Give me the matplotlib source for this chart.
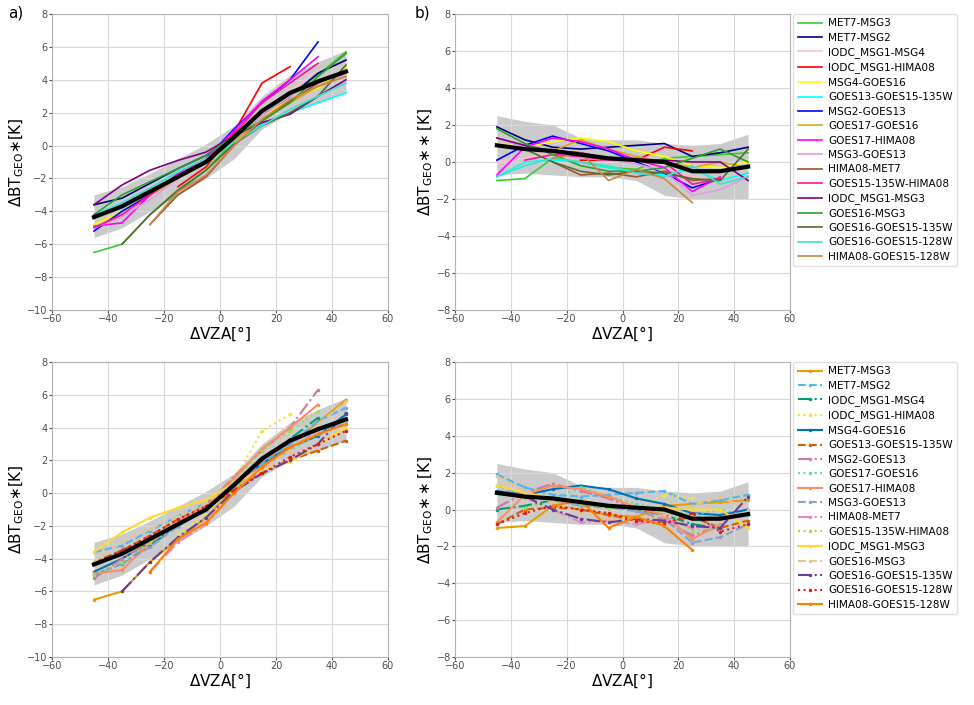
import numpy as np
import matplotlib.pyplot as plt

nan = np.nan
vza = [-45, -35, -25, -15, -5, 5, 15, 25, 35, 45]

names = ['MET7-MSG3', 'MET7-MSG2', 'IODC_MSG1-MSG4', 'IODC_MSG1-HIMA08', 'MSG4-GOES16',
         'GOES13-GOES15-135W', 'MSG2-GOES13', 'GOES17-GOES16', 'GOES17-HIMA08', 'MSG3-GOES13',
         'HIMA08-MET7', 'GOES15-135W-HIMA08', 'IODC_MSG1-MSG3', 'GOES16-MSG3',
         'GOES16-GOES15-135W', 'GOES16-GOES15-128W', 'HIMA08-GOES15-128W']

# double difference (a)
dd_a = [
    [-6.5, -6.0, -4.2, -2.8, -1.5, 0.3, 1.8, 3.0, 4.3, 5.7],
    [-3.6, -3.2, -2.3, -1.4, -0.6, 0.6, 1.8, 3.0, 4.4, 5.2],
    [-5.0, -4.3, -3.2, -2.0, -1.0, 0.5, 2.0, 3.3, 4.6, nan],
    [nan, nan, nan, -2.5, -1.3, 0.8, 3.8, 4.8, nan, nan],
    [-4.8, -4.0, -3.0, -2.0, -1.0, 0.5, 1.8, 2.8, 3.5, 4.8],
    [-4.2, -3.5, -2.6, -1.6, -0.8, 0.1, 1.3, 2.0, 2.6, 3.2],
    [-5.2, -4.0, -3.0, -2.0, -0.8, 1.0, 2.6, 4.0, 6.3, nan],
    [nan, nan, -3.0, -2.0, -1.0, 0.3, 1.5, 2.6, 3.6, 4.4],
    [-4.9, -4.7, -3.0, -1.7, -0.8, 0.9, 2.7, 4.0, 5.4, nan],
    [-5.0, -4.3, -3.3, -2.0, -0.9, 0.4, 1.8, 3.0, 4.0, 4.2],
    [nan, nan, -4.8, -3.0, -1.9, 0.0, 1.5, 2.7, 3.8, nan],
    [-5.0, -4.2, -3.0, -1.8, -0.9, 0.7, 2.6, 3.8, 5.0, nan],
    [-3.6, -2.4, -1.5, -0.9, -0.4, 0.6, 1.4, 1.9, 3.0, 4.0],
    [-4.2, -3.0, -2.2, -1.4, -0.6, 0.6, 1.5, 2.6, 4.2, 5.6],
    [nan, -6.0, -4.2, -2.7, -1.5, 0.1, 1.2, 2.0, 3.0, 4.9],
    [-4.3, -3.5, -2.6, -1.6, -0.8, 0.2, 1.2, 2.2, 3.0, 3.8],
    [nan, nan, -4.8, -2.8, -1.8, 0.0, 1.6, 2.8, 3.6, 4.2],
]
mean_a = [-4.35, -3.7, -2.8, -1.9, -1.0, 0.5, 2.1, 3.2, 3.9, 4.5]
lo_a = [-5.6, -5.0, -4.0, -3.0, -2.0, -0.8, 1.0, 2.0, 2.6, 3.2]
hi_a = [-3.0, -2.5, -1.7, -0.8, 0.1, 1.2, 3.0, 4.3, 5.1, 5.8]

# corrected double difference (b)
dd_b = [
    [-1.0, -0.9, 0.2, 0.0, -0.3, -0.4, 0.2, 0.3, 0.4, 0.5],
    [1.9, 1.2, 0.8, 0.7, 0.8, 0.9, 1.0, 0.3, 0.5, 0.8],
    [0.0, 0.2, 0.5, 0.3, 0.1, 0.0, -0.3, -0.8, -1.0, nan],
    [nan, nan, nan, 0.1, 0.1, 0.1, 0.8, 0.6, nan, nan],
    [1.0, 0.8, 1.1, 1.3, 1.1, 0.6, 0.3, -0.2, -0.3, 0.0],
    [-0.8, 0.0, 0.1, 0.0, -0.3, -0.6, -0.7, -0.4, -1.0, -0.6],
    [0.1, 0.9, 1.4, 1.0, 0.6, 0.0, -0.6, -1.4, -0.9, nan],
    [nan, nan, 0.6, 1.2, 0.7, 0.3, 0.0, -0.3, 0.0, -0.3],
    [-0.7, 0.8, 1.3, 1.1, 0.7, 0.1, -0.3, -1.6, -0.8, nan],
    [1.3, 0.8, 0.5, 0.2, 0.1, -0.1, -0.5, -1.8, -1.5, -0.8],
    [nan, nan, 0.0, -0.7, -0.6, -0.8, -0.5, -1.0, -0.9, nan],
    [nan, 0.1, 0.4, 0.3, 0.1, 0.2, 0.0, -1.2, -0.9, nan],
    [1.3, 0.9, 0.6, 0.5, 0.2, 0.1, 0.1, 0.0, 0.0, -1.0],
    [1.8, 1.0, 0.4, -0.2, -0.5, -0.5, -0.3, 0.2, 0.7, 0.0],
    [nan, 0.7, 0.0, -0.5, -0.7, -0.5, -0.6, -0.9, -1.0, 0.7],
    [-0.8, -0.2, 0.2, 0.0, -0.2, -0.6, -0.8, -0.2, -1.2, -0.8],
    [nan, nan, 0.2, 0.5, -1.0, -0.4, -0.9, -2.2, nan, nan],
]
mean_b = [0.9, 0.7, 0.6, 0.4, 0.2, 0.1, 0.0, -0.5, -0.5, -0.25]
lo_b = [-0.7, -0.6, -0.7, -0.8, -0.8, -1.0, -1.8, -2.0, -2.0, -2.0]
hi_b = [2.5, 2.2, 2.0, 1.3, 1.2, 1.2, 1.0, 0.9, 1.0, 1.5]

top_colors = ['limegreen', 'navy', 'pink', 'red', 'yellow', 'cyan', 'blue', 'goldenrod',
              'magenta', 'plum', 'sienna', 'deeppink', 'purple', 'tab:green', 'darkolivegreen',
              'turquoise', 'peru']
bot_styles = [
    ('#e69f00', '-'), ('#56b4e9', '--'), ('#009e73', '-.'), ('#f0e442', ':'),
    ('#0072b2', '-'), ('#d55e00', '--'), ('#cc79a7', '-.'), ('#66d9a6', ':'),
    ('#fc8d62', '-'), ('#8da0cb', '--'), ('#e78ac3', '-.'), ('#a6d854', ':'),
    ('#ffd92f', '-'), ('#e5c494', '--'), ('#6a3d9a', '-.'), ('#e31a1c', ':'),
    ('#ff7f00', '-'),
]

fig = plt.figure(figsize=(9.74, 7.05), dpi=100)
W, H = 974, 705
def add_ax(x0, y0, x1, y1):
    return fig.add_axes([x0 / W, 1 - y1 / H, (x1 - x0) / W, (y1 - y0) / H])

axes = [add_ax(52, 14, 388, 310), add_ax(455, 14, 790, 310),
        add_ax(52, 362, 388, 657), add_ax(455, 362, 790, 657)]
ylabels = [r'$\Delta$BT$_{\rm GEO}$$\ast$[K]', r'$\Delta$BT$_{\rm GEO}$$\ast\ast$[K]']

for k, ax in enumerate(axes):
    is_b = k % 2 == 1
    data = dd_b if is_b else dd_a
    mean, lo, hi = (mean_b, lo_b, hi_b) if is_b else (mean_a, lo_a, hi_a)
    ax.fill_between(vza, lo, hi, color='0.6', alpha=0.5, lw=0)
    for i, (name, vals) in enumerate(zip(names, data)):
        if k < 2:
            ax.plot(vza, vals, color=top_colors[i], lw=1.2, label=name)
        else:
            c, ls = bot_styles[i]
            ax.plot(vza, vals, color=c, ls=ls, lw=1.5, marker='o', ms=1.5, label=name)
    ax.plot(vza, mean, color='black', lw=3)
    ax.set_xlim(-60, 60)
    ax.set_ylim(-8 if is_b else -10, 8)
    ax.set_yticks(range(-8 if is_b else -10, 9, 2))
    ax.tick_params(labelsize=7, colors='0.3', length=2, pad=1)
    ax.grid(True, color='0.85')
    ax.set_xlabel(r'$\Delta$VZA[°]', fontsize=11, labelpad=0)
    ax.set_ylabel(ylabels[is_b], fontsize=11, labelpad=1)
    for s in ax.spines.values():
        s.set_color('0.7')
    if is_b:
        ax.legend(loc='upper left', bbox_to_anchor=(1.01, 1.0), fontsize=7.6,
                  frameon=True, edgecolor='0.85', borderaxespad=0, handlelength=2.3,
                  handletextpad=0.6, labelspacing=0.42, borderpad=0.4)

fig.text(8 / W, 1 - 18 / H, 'a)', fontsize=11)
fig.text(415 / W, 1 - 18 / H, 'b)', fontsize=11)
fig.savefig('out.png', dpi=100)
